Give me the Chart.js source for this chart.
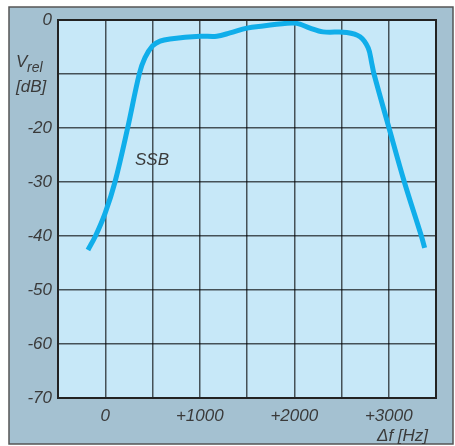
<!DOCTYPE html>
<html>
<head>
<meta charset="utf-8">
<script src="https://cdn.jsdelivr.net/npm/chart.js@4"></script>
<style>
  html, body { margin: 0; padding: 0; background: #fff; }
  #wrap { width: 455px; height: 446px; }
</style>
</head>
<body>
<div id="wrap"><canvas id="chart" width="455" height="446"></canvas></div>
<script>
// frequency offset in Hz, relative level in dB
var freqHz = [-183, -101, 0, 103, 237, 360, 420, 500, 580, 685, 1003, 1180, 1320, 1500, 1670, 1923, 1990, 2060, 2167, 2304, 2556, 2696, 2783, 2820, 2844, 3003, 3165, 3345, 3380];
var levelDb = [-42.6, -39.9, -35.7, -30, -20, -10, -7, -4.8, -3.9, -3.5, -3.0, -3.0, -2.4, -1.5, -1.1, -0.6, -0.55, -0.75, -1.5, -2.2, -2.3, -3.1, -5.2, -8, -10, -20, -30, -40, -42.2];
var xTicks = [0, 1000, 2000, 3000];
var yTicks = [0, -20, -30, -40, -50, -60, -70];

var points = freqHz.map(function(f, i) { return { x: f, y: levelDb[i] }; });
var textColor = "#3a3a3a";
var font = "italic 17px 'Liberation Sans', Arial, sans-serif";

var framePlugin = {
    id: "frame",
    beforeDraw: function(chart) {
        var ctx = chart.ctx;
        var a = chart.chartArea;
        ctx.save();
        ctx.fillStyle = "#a4c1d1";
        ctx.fillRect(9, 7, 444, 437);
        ctx.strokeStyle = "#555";
        ctx.lineWidth = 1.5;
        ctx.strokeRect(9, 7, 444, 437);
        ctx.fillStyle = "#c7e8f8";
        ctx.fillRect(a.left, a.top, a.right - a.left, a.bottom - a.top);
        ctx.restore();
    },
    afterDatasetsDraw: function(chart) {
        var ctx = chart.ctx;
        var a = chart.chartArea;
        ctx.save();
        ctx.strokeStyle = "#222";
        ctx.lineWidth = 2;
        ctx.strokeRect(a.left, a.top, a.right - a.left, a.bottom - a.top);
        ctx.fillStyle = textColor;
        ctx.font = font;
        ctx.textBaseline = "alphabetic";
        ctx.textAlign = "left";
        ctx.fillText("V", 16, 67);
        ctx.font = "italic 14px 'Liberation Sans', Arial, sans-serif";
        ctx.fillText("rel", 27, 72);
        ctx.font = font;
        ctx.fillText("[dB]", 16, 92);
        ctx.fillText("SSB", 135, 165);
        ctx.fillText("\u0394f [Hz]", 377, 441);
        ctx.restore();
    }
};

new Chart(document.getElementById("chart"), {
    type: "scatter",
    data: {
        datasets: [{
            data: points,
            showLine: true,
            borderColor: "#10aeea",
            borderWidth: 5,
            pointRadius: 0,
            tension: 0.35,
            fill: false
        }]
    },
    options: {
        responsive: false,
        animation: false,
        layout: { padding: { top: 20, right: 19, left: 0, bottom: 0 } },
        plugins: { legend: { display: false }, tooltip: { enabled: false } },
        scales: {
            x: {
                type: "linear",
                min: -500,
                max: 3500,
                afterBuildTicks: function(axis) {
                    var t = [];
                    for (var v = -500; v <= 3500; v += 500) t.push({ value: v });
                    axis.ticks = t;
                },
                afterFit: function(axis) { axis.height = 48; },
                grid: { color: "rgba(0,0,0,0.65)", lineWidth: 1.5, drawTicks: false },
                border: { display: false },
                ticks: {
                    padding: 8,
                    color: textColor,
                    font: { family: "'Liberation Sans', Arial, sans-serif", size: 17, style: "italic" },
                    maxRotation: 0,
                    autoSkip: false,
                    callback: function(v) {
                        if (xTicks.indexOf(v) < 0) return "";
                        return v > 0 ? "+" + v : String(v);
                    }
                }
            },
            y: {
                min: -70,
                max: 0,
                afterBuildTicks: function(axis) {
                    var t = [];
                    for (var v = -70; v <= 0; v += 10) t.push({ value: v });
                    axis.ticks = t;
                },
                afterFit: function(axis) { axis.width = 58; },
                grid: { color: "rgba(0,0,0,0.65)", lineWidth: 1.5, drawTicks: false },
                border: { display: false },
                ticks: {
                    padding: 6,
                    color: textColor,
                    font: { family: "'Liberation Sans', Arial, sans-serif", size: 17, style: "italic" },
                    autoSkip: false,
                    callback: function(v) {
                        return yTicks.indexOf(v) < 0 ? "" : String(v);
                    }
                }
            }
        }
    },
    plugins: [framePlugin]
});
</script>
</body>
</html>
